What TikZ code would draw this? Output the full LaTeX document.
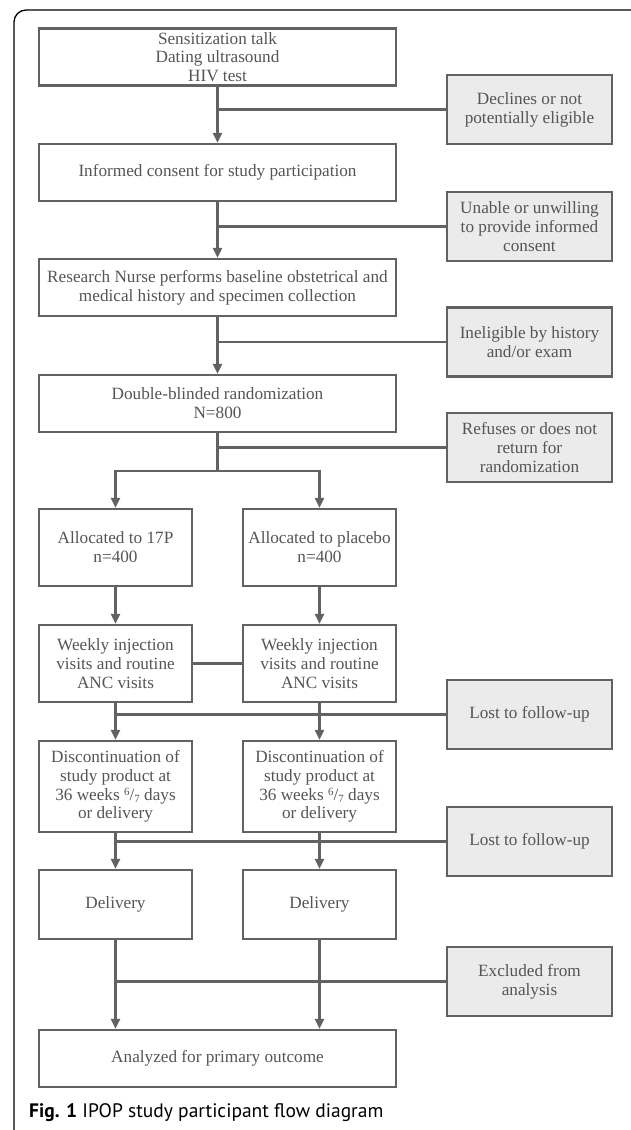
\documentclass[tikz,border=0pt]{standalone}
\usepackage{fontspec}
\setmainfont{Liberation Serif}
\newfontfamily\capfont{PT Sans}
\usetikzlibrary{arrows.meta}
\definecolor{linegray}{HTML}{626262}
\definecolor{fillgray}{HTML}{EBEBEB}
\definecolor{txtgray}{HTML}{555555}
\begin{document}
\begin{tikzpicture}[x=1pt,y=-1pt,
  box/.style={draw=linegray, line width=2.4pt, fill=white, text=txtgray, align=center, inner sep=1pt,
    font=\fontsize{17.2}{18.8}\selectfont},
  mainbox/.style={box, minimum width=357pt, minimum height=57pt},
  subbox/.style={box, minimum width=153pt},
  sidebox/.style={box, fill=fillgray, minimum width=165pt, minimum height=69pt},
  conn/.style={draw=linegray, line width=2.6pt},
  arr/.style={conn, -{Triangle[length=10pt,width=9pt]}}]
\useasboundingbox (0,0) rectangle (631,1130);
\fill[white] (0,0) rectangle (631,1130);
\draw[line width=1.3pt, rounded corners=12pt] (14,1134) -- (14,10) -- (650,10);

\node[mainbox] (b1) at (217.5,57) {Sensitization talk\\Dating ultrasound\\HIV test};
\node[sidebox] (d1) at (529.5,109.5) {Declines or not\\potentially eligible};
\node[mainbox] (b2) at (217.5,172.5) {Informed consent for study participation};
\node[sidebox] (d2) at (529.5,226.5) {Unable or unwilling\\to provide informed\\consent};
\node[mainbox] (b3) at (217.5,287.5) {Research Nurse performs baseline obstetrical and\\medical history and specimen collection};
\node[sidebox] (d3) at (529.5,342) {Ineligible by history\\and/or exam};
\node[mainbox] (b4) at (217.5,403.5) {Double-blinded randomization\\N=800};
\node[sidebox] (d4) at (529.5,447.5) {Refuses or does not\\return for\\randomization};

\node[subbox, minimum height=77pt] (a1) at (115.5,547.5) {Allocated to 17P\\n=400};
\node[subbox, minimum height=77pt] (a2) at (319.5,547.5) {Allocated to placebo\\n=400};
\node[subbox, minimum height=77pt] (w1) at (115.5,663.5) {Weekly injection\\visits and routine\\ANC visits};
\node[subbox, minimum height=77pt] (w2) at (319.5,663.5) {Weekly injection\\visits and routine\\ANC visits};
\node[sidebox] (l1) at (529.5,714.5) {Lost to follow-up};
\node[subbox, minimum height=91pt] (c1) at (115.5,786.5) {Discontinuation of\\study product at\\36 weeks \raisebox{0.55ex}{\fontsize{11}{11}\selectfont 6}/\raisebox{-0.35ex}{\fontsize{11}{11}\selectfont 7} days\\or delivery};
\node[subbox, minimum height=91pt] (c2) at (319.5,786.5) {Discontinuation of\\study product at\\36 weeks \raisebox{0.55ex}{\fontsize{11}{11}\selectfont 6}/\raisebox{-0.35ex}{\fontsize{11}{11}\selectfont 7} days\\or delivery};
\node[sidebox] (l2) at (529.5,841.5) {Lost to follow-up};
\node[subbox, minimum height=69pt] (v1) at (115.5,904.5) {Delivery};
\node[subbox, minimum height=69pt] (v2) at (319.5,904.5) {Delivery};
\node[sidebox] (e1) at (529.5,981.5) {Excluded from\\analysis};
\node[mainbox] (an) at (217.5,1058.5) {Analyzed for primary outcome};

\node[anchor=west, inner sep=0pt, font=\capfont\fontsize{19.5}{22}\selectfont] (cap) at (29,1113)
  {\textbf{Fig. 1} IPOP study participant flow diagram};

% connectors
\draw[arr] (b1) -- (b2);
\draw[conn] (d1.west) -- (d1.west -| b1.south);
\draw[arr] (b2) -- (b3);
\draw[conn] (d2.west) -- (d2.west -| b2.south);
\draw[arr] (b3) -- (b4);
\draw[conn] (d3.west) -- (d3.west -| b3.south);
\coordinate (j) at (217.5,471);
\draw[conn] (b4.south) -- (j);
\draw[conn] (d4.west) -- (d4.west -| b4.south);
\draw[arr] (j) -| (a1.north);
\draw[arr] (j) -| (a2.north);
\draw[arr] (a1) -- (w1);
\draw[arr] (a2) -- (w2);
\draw[conn] (w1.east) -- (w2.west);
\draw[arr] (w1) -- (c1);
\draw[arr] (w2) -- (c2);
\draw[conn] (l1.west) -- (l1.west -| w1.south);
\draw[arr] (c1) -- (v1);
\draw[arr] (c2) -- (v2);
\draw[conn] (l2.west) -- (l2.west -| c1.south);
\draw[arr] (v1.south) -- (an.north -| v1.south);
\draw[arr] (v2.south) -- (an.north -| v2.south);
\draw[conn] (e1.west) -- (e1.west -| v1.south);
\end{tikzpicture}
\end{document}
